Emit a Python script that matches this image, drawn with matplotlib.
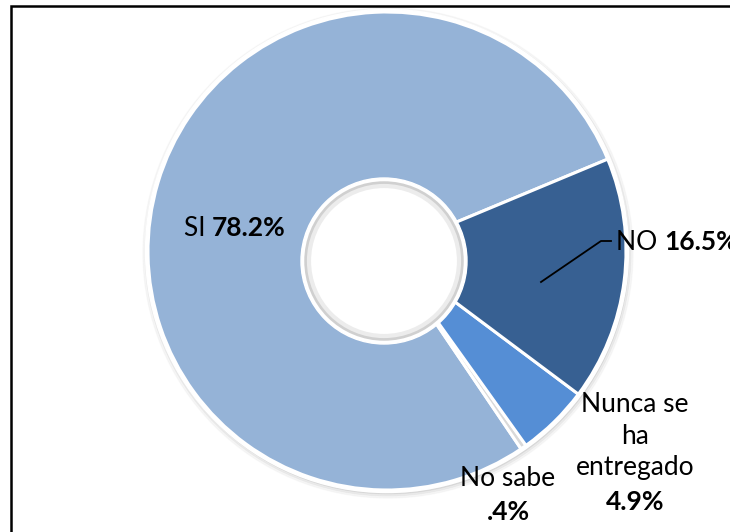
import numpy as np
import matplotlib.pyplot as plt
from matplotlib.patches import Circle, Rectangle

# data
labels = ['SI', 'NO', 'Nunca se\nha\nentregado', 'No sabe']
values = [78.2, 16.5, 4.9, 0.4]
pct_text = ['78.2%', '16.5%', '4.9%', '.4%']
colors = ['#95B3D7', '#376092', '#558ED5', '#D9D9D9']

W, H = 730, 532
fig = plt.figure(figsize=(W / 100, H / 100), dpi=100)
ax = fig.add_axes([0, 0, 1, 1])

def py(y):
    # pixel row (top-down) to data y
    return H - y

cx, cy, R = 387, py(251), 239

# soft shadow ring behind the donut
for k, a in [(6, 0.05), (4, 0.08), (2, 0.12)]:
    ax.add_patch(Circle((cx + 1, cy - 2), R + k, color='#808080', alpha=a, zorder=0))
ax.add_patch(Circle((cx, cy), R + 2.5, color='white', zorder=1))

# order drawn counter-clockwise from the SI/NO boundary
order = [0, 3, 2, 1]
wedges, _ = ax.pie([values[i] for i in order], colors=[colors[i] for i in order],
                   startangle=22.6, counterclock=True, center=(cx, cy), radius=R,
                   wedgeprops=dict(edgecolor='white', linewidth=2.2), frame=True)
for w in wedges:
    w.set_zorder(2)
ax.set_xlim(0, W)
ax.set_ylim(0, H)
ax.set_aspect('equal')
ax.axis('off')

# hole
hx, hy = 384, py(261)
ax.add_patch(Circle((hx, hy), 83, color='white', zorder=3))
ax.add_patch(Circle((hx, hy), 78, facecolor='white', edgecolor='#d0d0d0', linewidth=2.5, zorder=4))
ax.add_patch(Circle((hx, hy), 75, facecolor='white', edgecolor='#ececec', linewidth=3, zorder=4))

fs = 19
fam = ['Lato', 'DejaVu Sans']

# SI label
ax.text(212, py(228), 'SI ', ha='right', va='center', fontsize=fs, family=fam, zorder=6)
ax.text(212, py(228), pct_text[0], ha='left', va='center', fontsize=fs, family=fam,
        fontweight='bold', zorder=6)

# NO label with leader line
ax.plot([541, 601, 611], [py(282), py(241), py(241)], color='black', lw=1.3, zorder=6)
ax.text(664, py(242), 'NO ', ha='right', va='center', fontsize=fs, family=fam, zorder=6)
ax.text(664, py(242), pct_text[1], ha='left', va='center', fontsize=fs, family=fam,
        fontweight='bold', zorder=6)

# Nunca se ha entregado
ax.text(635, py(436), labels[2], ha='center', va='center', fontsize=fs, family=fam,
        linespacing=1.3, zorder=6)
ax.text(635, py(502), pct_text[2], ha='center', va='center', fontsize=fs, family=fam,
        fontweight='bold', zorder=6)

# No sabe
ax.text(508, py(478), labels[3], ha='center', va='center', fontsize=fs, family=fam, zorder=6)
ax.text(508, py(512), pct_text[3], ha='center', va='center', fontsize=fs, family=fam,
        fontweight='bold', zorder=6)

# chart border (runs off the right and bottom edges)
ax.add_patch(Rectangle((11, py(545)), 740, 539, fill=False, edgecolor='black',
                       linewidth=1.8, zorder=7, clip_on=False))

fig.savefig('out.png', dpi=100)
